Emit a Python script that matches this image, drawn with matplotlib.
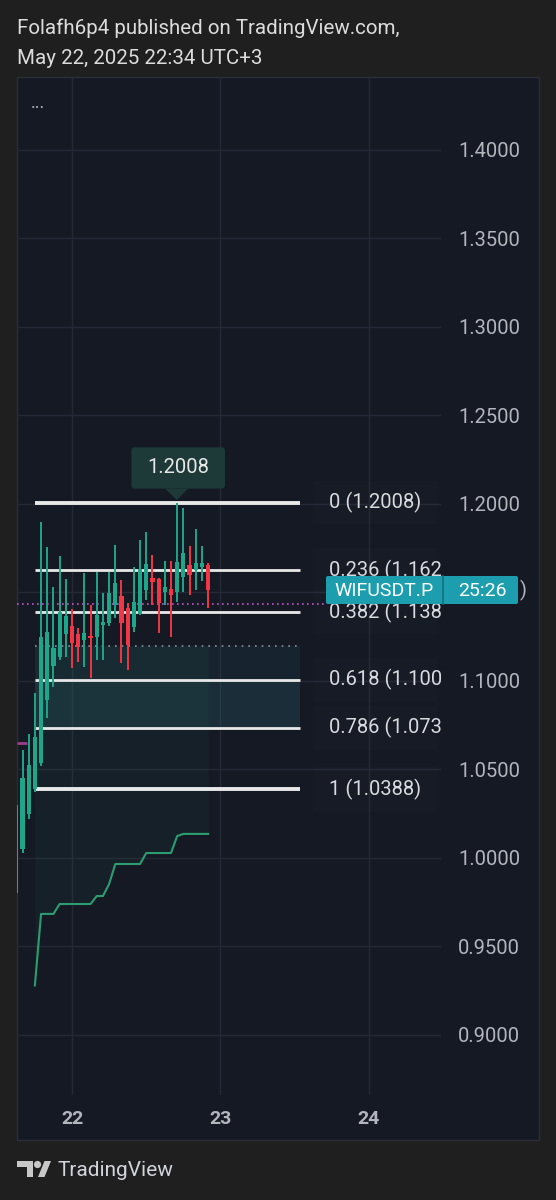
import numpy as np
import matplotlib
matplotlib.use("Agg")
import matplotlib.pyplot as plt
from matplotlib.patches import Rectangle, FancyBboxPatch, Polygon, Circle

plt.rcParams['font.family'] = ['Roboto', 'DejaVu Sans']

# -----------------------------------------------------------------------------
# data (hourly candles, WIFUSDT.P)
# -----------------------------------------------------------------------------
first_bar_day = 21 + 15 / 24          # 21st, 15:00
opens = [0.980, 1.005, 1.025, 1.039, 1.0537, 1.0893, 1.1085, 1.1136, 1.1266, 1.1311,
         1.1266, 1.1232, 1.1254, 1.1249, 1.1316, 1.1328, 1.1429, 1.1480, 1.1412, 1.1305,
         1.1379, 1.1514, 1.1582, 1.1576, 1.1503, 1.1520, 1.1503, 1.1588, 1.1655, 1.1627,
         1.1644, 1.1655]
highs = [1.033, 1.061, 1.070, 1.093, 1.1898, 1.1757, 1.1531, 1.1706, 1.1576, 1.1407,
         1.1299, 1.1610, 1.1429, 1.1616, 1.1497, 1.1616, 1.1768, 1.1570, 1.1440, 1.1644,
         1.1797, 1.1842, 1.1712, 1.1580, 1.1678, 1.1678, 1.2008, 1.1977, 1.1763, 1.1859,
         1.1763, 1.1667]
lows = [0.979, 1.003, 1.022, 1.037, 1.052, 1.079, 1.0966, 1.112, 1.1136, 1.1073,
        1.1107, 1.1079, 1.1017, 1.1119, 1.1119, 1.131, 1.1356, 1.1102, 1.1062, 1.1277,
        1.137, 1.1458, 1.1429, 1.1271, 1.1429, 1.1249, 1.1446, 1.1503, 1.1486, 1.1514,
        1.1565, 1.1412]
closes = [1.030, 1.045, 1.0525, 1.0684, 1.1249, 1.1277, 1.1186, 1.139, 1.1367, 1.1215,
          1.1192, 1.1271, 1.1243, 1.1373, 1.1333, 1.1497, 1.1554, 1.1328, 1.1203, 1.1446,
          1.1633, 1.1661, 1.1559, 1.1441, 1.1531, 1.1486, 1.1672, 1.1723, 1.1599, 1.1667,
          1.1667, 1.1514]

# trailing stop style line (starts at bar 4)
stop_start_bar = 3
stop_vals = [0.928, 0.9684, 0.9684, 0.9684, 0.974, 0.974, 0.974, 0.974, 0.974, 0.974,
             0.9785, 0.9785, 0.9853, 0.9966, 0.9966, 0.9966, 0.9966, 0.9966, 1.0028, 1.0028,
             1.0028, 1.0028, 1.0028, 1.0124, 1.0136, 1.0136, 1.0136, 1.0136, 1.0136]

# fibonacci retracement (labels as far as they show before the price scale)
fib_prices = [1.2008, 1.1626, 1.1389, 1.1007, 1.0735, 1.0388]
fib_text = ["0 (1.2008)", "0.236 (1.162", "0.382 (1.138", "0.618 (1.100",
            "0.786 (1.073", "1 (1.0388)"]
fib_x0, fib_x1 = 21.751, 23.535
zone_top = 1.1198
last_price = 1.1435
old_level = 1.065

price_ticks = [0.90, 0.95, 1.00, 1.05, 1.10, 1.15, 1.20, 1.25, 1.30, 1.35, 1.40]
hidden_tick = 1.15   # sits under the symbol label
day_ticks = [22, 23, 24]

# -----------------------------------------------------------------------------
# colours
# -----------------------------------------------------------------------------
OUTER = "#1f1f1f"
PANEL = "#151924"
GRID = "#242935"
UP = "#1fa58a"
DOWN = "#f23645"
AXTXT = "#b2b5be"
W = 556
H = 1200

fig = plt.figure(figsize=(W / 100, H / 100), dpi=100, facecolor=OUTER)

# pixel-space background layer
bg = fig.add_axes([0, 0, 1, 1], zorder=0)
bg.set_xlim(0, W)
bg.set_ylim(H, 0)
bg.axis("off")
bg.add_patch(Rectangle((17, 77), 522, 1063, facecolor=PANEL, edgecolor="#2a2e39", lw=1))

# main chart axes
left, right, top, bottom = 17, 441, 77, 1095
ax = fig.add_axes([left / W, 1 - bottom / H, (right - left) / W, (bottom - top) / H], zorder=1)
ax.patch.set_alpha(0)
ax.set_ylim(0.8661, 1.4412)
ax.set_xlim(21.6296, 24.485)
for s in ax.spines.values():
    s.set_visible(False)

ax.set_yticks(price_ticks)
ax.set_yticklabels(["" if abs(v - hidden_tick) < 1e-9 else f"{v:.4f}" for v in price_ticks])
ax.yaxis.tick_right()
ax.set_xticks(day_ticks)
ax.set_xticklabels([str(d) for d in day_ticks], fontweight="bold")
ax.tick_params(axis="y", length=0, pad=12.2, labelsize=14.5, labelcolor=AXTXT)
ax.tick_params(axis="x", length=0, pad=11, labelsize=14, labelcolor=AXTXT)
ax.grid(True, color=GRID, lw=1)
ax.set_axisbelow(True)

# fib zone fills
ax.fill_between([fib_x0, fib_x1], fib_prices[3], zone_top, color="#2a6a78", alpha=0.14, lw=0, zorder=1)
ax.fill_between([fib_x0, fib_x1], fib_prices[4], fib_prices[3], color="#2a6a78", alpha=0.26, lw=0, zorder=1)

# trailing stop line with soft area above it
t_stop = first_bar_day + (stop_start_bar + np.arange(len(stop_vals))) / 24
ax.fill_between(t_stop, stop_vals, zone_top, color="#2a8a60", alpha=0.07, lw=0, zorder=1)
ax.plot(t_stop, stop_vals, color="#2c9d70", lw=1.5, zorder=2)

ax.hlines(zone_top, fib_x0, fib_x1, colors="#8c909a", linestyles=(0, (1, 3)), lw=1.2, zorder=2)
ax.hlines(old_level, 21.6296, 21.697, colors="#9c3d8c", lw=2, zorder=2)
ax.hlines(last_price, 21.6296, 23.71, colors="#c155c8", linestyles=(0, (1, 2)), lw=1.2, zorder=2)

# fib levels
for i, (p, txt) in enumerate(zip(fib_prices, fib_text)):
    lw = 2.8 if i in (0, len(fib_prices) - 1) else 2.0
    ax.hlines(p, fib_x0, fib_x1, colors="#e8e8e8", lw=lw, zorder=3)
    ax.add_patch(Rectangle((23.623, p - 0.0124), 0.835, 0.0248, facecolor="#ffffff",
                           alpha=0.012, lw=0, zorder=2))
    ax.text(23.731, p, txt, va="center", ha="left", fontsize=14.5, color="#d8dae0",
            clip_on=True, zorder=4)

# candles
t_bars = first_bar_day + np.arange(len(opens)) / 24
for t, o, h, l, c in zip(t_bars, opens, highs, lows, closes):
    col = UP if c >= o else DOWN
    ax.vlines(t, l, h, colors=col, lw=1.4, zorder=5)
    ax.bar(t, max(abs(c - o), 0.0008), bottom=min(o, c), width=0.028, color=col, lw=0, zorder=5)

# high tooltip
ax.add_patch(FancyBboxPatch((22.40, 1.2087), 0.63, 0.0233, boxstyle="round,pad=0,rounding_size=0.02",
                            mutation_aspect=0.1, facecolor="#1d3a39", edgecolor="none", zorder=6))
ax.add_patch(Polygon([[22.628, 1.2087], [22.782, 1.2087], [22.705, 1.2022]], closed=True,
                     facecolor="#1d3a39", edgecolor="none", zorder=6))
ax.text(22.713, 1.2204, "1.2008", ha="center", va="center", fontsize=14.5, color="#e8e8e8", zorder=7)

# foreground pixel-space layer
fg = fig.add_axes([0, 0, 1, 1], zorder=3)
fg.set_xlim(0, W)
fg.set_ylim(H, 0)
fg.axis("off")
fg.patch.set_alpha(0)

fg.text(520, 590, ")", ha="left", va="center", fontsize=14.5, color=AXTXT)
fg.add_patch(FancyBboxPatch((326, 576), 192, 28, boxstyle="round,pad=0,rounding_size=2",
                            facecolor="#1c9eae", edgecolor="none"))
fg.plot([443, 443], [576, 604], color="#15707c", lw=1.2)
fg.text(384, 591, "WIFUSDT.P", ha="center", va="center", fontsize=14, color="#ffffff")
fg.text(482, 591, "25:26", ha="center", va="center", fontsize=14, color="#ffffff")
fg.text(38, 103, "...", ha="center", va="center", fontsize=13, color=AXTXT)

# header and footer
fg.text(17, 28, "Folafh6p4 published on TradingView.com,", ha="left", va="center",
        fontsize=14.8, color="#dcdcdc")
fg.text(17, 58, "May 22, 2025 22:34 UTC+3", ha="left", va="center", fontsize=14.8, color="#dcdcdc")

logo_col = "#c8c8c8"
fg.add_patch(Polygon([[17, 1161], [33, 1161], [33, 1177], [27, 1177], [27, 1167], [17, 1167]],
                     closed=True, facecolor=logo_col, edgecolor="none"))
fg.add_patch(Circle((37.5, 1164.5), 3.6, facecolor=logo_col, edgecolor="none"))
fg.add_patch(Polygon([[38, 1177], [44.5, 1177], [51, 1161], [44.5, 1161]], closed=True,
                     facecolor=logo_col, edgecolor="none"))
fg.text(57, 1170, "TradingView", ha="left", va="center", fontsize=15, color="#d1d4dc")

fig.savefig("out.png", dpi=100, facecolor=OUTER)
